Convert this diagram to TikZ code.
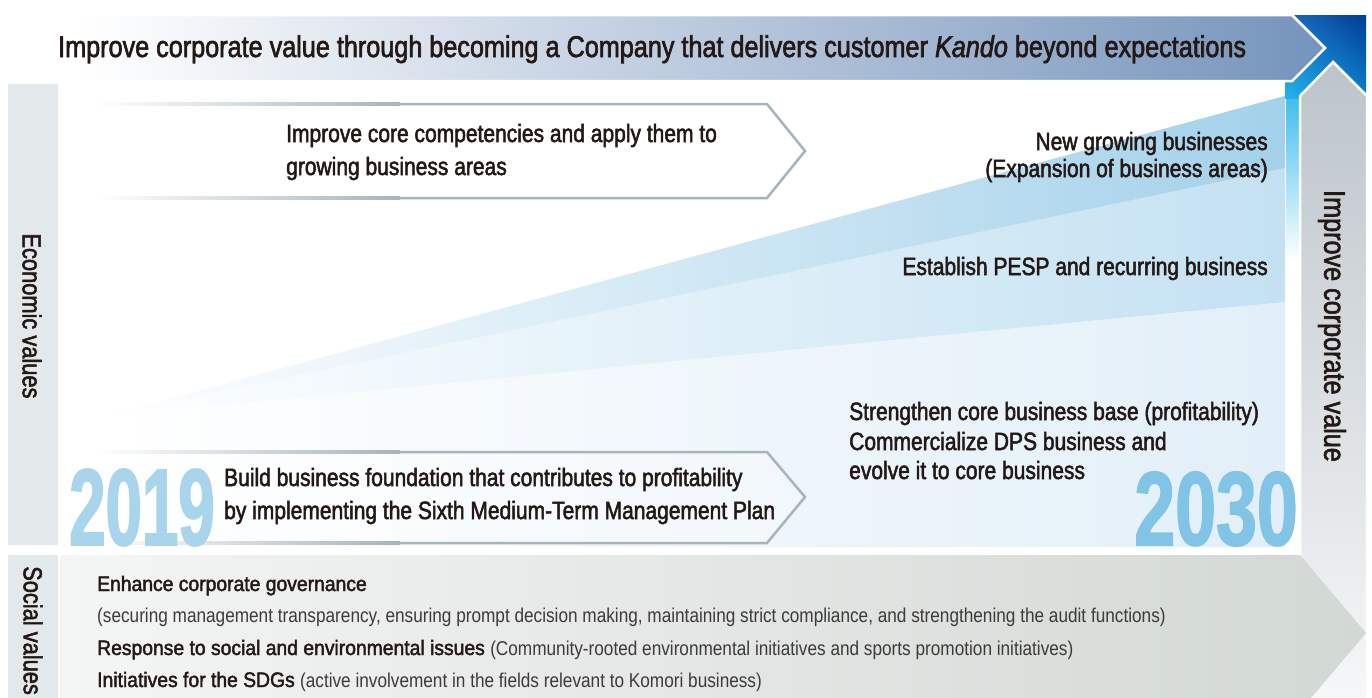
\documentclass[tikz,border=0pt]{standalone}
\usepackage{fontspec}
\usepackage{graphicx}
\usetikzlibrary{shadings}
\setmainfont{Liberation Sans}[FakeStretch=0.84]
\newfontfamily\medfont{Liberation Sans}[FakeStretch=0.84,FakeBold=2]
\newfontfamily\socfont{Liberation Sans}[FakeStretch=0.92,FakeBold=2]
\newfontfamily\subfont{Liberation Sans}[FakeStretch=0.86]
\newfontfamily\yearA{Liberation Sans}[FakeStretch=0.60,FakeBold=1.5]
\newfontfamily\yearB{Liberation Sans}[FakeStretch=0.70,FakeBold=1.5]
\definecolor{inkc}{HTML}{231815}
\definecolor{subc}{HTML}{3E3A39}
\definecolor{sidegray}{HTML}{E3E8EB}
\definecolor{wedgeA}{HTML}{A3D1EA}
\definecolor{wedgeB}{HTML}{C3E1F2}
\definecolor{wedgeC}{HTML}{E2EFF8}
\definecolor{bannerR}{HTML}{7594BC}
\definecolor{grayT}{HTML}{BCC4CA}
\definecolor{grayB}{HTML}{F6F7F8}
\definecolor{socL}{HTML}{F4F5F5}
\definecolor{socR}{HTML}{D2D8D4}
\definecolor{boxline}{HTML}{A6B4BD}
\definecolor{boxfill}{HTML}{F2F7FB}
\definecolor{yearA}{HTML}{A8D5EC}
\definecolor{yearB}{HTML}{82C4E5}
\definecolor{cyanglow}{HTML}{2AB6EC}
\definecolor{cornUL}{HTML}{1A6CC0}
\definecolor{cornUR}{HTML}{003C93}
\definecolor{cornLL}{HTML}{22B4EC}
\definecolor{cornLR}{HTML}{0D7FCC}
\begin{document}
\begin{tikzpicture}[x=1pt,y=-1pt,
  lbl/.style={inner sep=0pt, text=inkc},
  body/.style={lbl, font=\medfont\fontsize{25}{30}\selectfont},
  title/.style={lbl, font=\medfont\fontsize{30}{34}\selectfont},
  side/.style={lbl, font=\medfont\fontsize{26}{30}\selectfont, rotate=-90},
  soch/.style={lbl, font=\socfont\fontsize{21}{26}\selectfont},
  socs/.style={inner sep=0pt, text=subc, font=\subfont\fontsize{20}{24}\selectfont},
  boxedge/.style={draw=boxline, line width=2.5pt, line join=miter},
  fadeedge/.style={left color=white, right color=boxline},
]
\useasboundingbox (0,0) rectangle (1372,697);
\clip (0,0) rectangle (1372,697);
\fill[white] (0,0) rectangle (1372,697);

% side label columns
\fill[sidegray] (8,84) rectangle (58,545);
\fill[sidegray] (8,555) rectangle (58,700);

% growth wedges
\shade[left color=white, right color=wedgeC] (99,417) -- (1285,302) -- (1285,547) -- (99,547) -- cycle;
\shade[left color=white, right color=wedgeB] (99,417) -- (1285,168) -- (1285,302) -- cycle;
\shade[left color=white, right color=wedgeA] (99,417) -- (1285,95) -- (1285,168) -- cycle;
\draw[white, line width=1.5pt] (99,417) -- (1285,95);

% blue corner and glow
\shade[top color=cyanglow, bottom color=white] (1286,78) rectangle (1300,260);
\shade[upper left=cornUL, upper right=cornUR, lower left=cornLL, lower right=cornLR]
  (1285,15) rectangle (1366,98);

% title banner
\shadedraw[left color=white, right color=bannerR, draw=white, line width=2.5pt]
  (80,15) -- (1292,15) -- (1325,48) -- (1292,81) -- (80,81) -- cycle;
\node[title, anchor=base west] (ttl) at (58,57)
  {Improve corporate value through becoming a Company that delivers customer \textit{Kando} beyond expectations};

% vertical improve arrow
\shadedraw[top color=grayT, bottom color=grayB, draw=white, line width=2.5pt]
  (1333,62) -- (1367,96) -- (1367,700) -- (1300,700) -- (1300,96) -- cycle;
\node[side, font=\medfont\fontsize{30}{34}\selectfont] (icv) at (1332,326) {Improve corporate value};

% social arrow
\shade[left color=socL, right color=socR]
  (60,555) -- (1300,555) -- (1366,633) -- (1300,711) -- (60,711) -- cycle;

% side labels
\node[side] (econ) at (32,316) {Economic values};
\node[side, anchor=west] (soc) at (33,566) {Social values};

% upper step box
\fill[white] (95,104) -- (767,104) -- (805,151) -- (767,198) -- (95,198) -- cycle;
\shade[fadeedge] (95,102.75) rectangle (400,105.25);
\shade[fadeedge] (95,196.75) rectangle (400,199.25);
\draw[boxedge] (400,104) -- (767,104) -- (805,151) -- (767,198) -- (400,198);
\node[body, anchor=base west] (up1) at (286,142) {Improve core competencies and apply them to};
\node[body, anchor=base west] (up2) at (286,175) {growing business areas};

% lower step box
\shade[left color=white, right color=boxfill]
  (95,452) -- (767,452) -- (805,497) -- (767,543) -- (95,543) -- cycle;
\shade[fadeedge] (95,450.75) rectangle (400,453.25);
\shade[fadeedge] (95,541.75) rectangle (400,544.25);
\draw[boxedge] (400,452) -- (767,452) -- (805,497) -- (767,543) -- (400,543);
\node[body, anchor=base west] (lo1) at (224,486) {Build business foundation that contributes to profitability};
\node[body, anchor=base west] (lo2) at (224,519) {by implementing the Sixth Medium-Term Management Plan};

% right-side texts
\node[body, anchor=base east] (ng1) at (1268,150) {New growing businesses};
\node[body, anchor=base east] (ng2) at (1268,177) {(Expansion of business areas)};
\node[body, anchor=base east] (pesp) at (1268,275) {Establish PESP and recurring business};
\node[body, anchor=base west] (st1) at (849,420) {Strengthen core business base (profitability)};
\node[body, anchor=base west] (st2) at (849,450) {Commercialize DPS business and};
\node[body, anchor=base west] (st3) at (849,479) {evolve it to core business};

% years
\node[inner sep=0pt, anchor=base west, text=yearA, font=\yearA\bfseries\fontsize{109}{109}\selectfont] (y19) at (69,545) {2019};
\node[inner sep=0pt, anchor=base east, text=yearB, font=\yearB\bfseries\fontsize{105}{105}\selectfont] (y30) at (1298,545) {2030};

% social texts
\node[soch, anchor=base west] (s1) at (97,591) {Enhance corporate governance};
\node[socs, anchor=base west] (s1b) at (97,622) {(securing management transparency, ensuring prompt decision making, maintaining strict compliance, and strengthening the audit functions)};
\node[soch, anchor=base west] (s2) at (97,655) {Response to social and environmental issues {\subfont\fontsize{20}{24}\selectfont\color{subc} (Community-rooted environmental initiatives and sports promotion initiatives)}};
\node[soch, anchor=base west] (s3) at (97,687) {Initiatives for the SDGs {\subfont\fontsize{20}{24}\selectfont\color{subc} (active involvement in the fields relevant to Komori business)}};
\end{tikzpicture}
\end{document}
